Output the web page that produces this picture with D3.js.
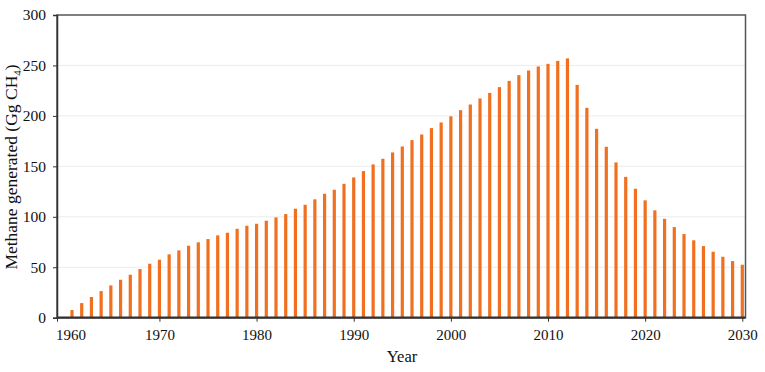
<!DOCTYPE html>
<html><head><meta charset="utf-8">
<script src="https://cdn.jsdelivr.net/npm/d3@7"></script>
<style>
body{margin:0;background:#fff;}
svg{display:block;font-family:"Liberation Serif","Times New Roman",serif;}
</style></head>
<body><svg id="c" width="765" height="372"></svg>
<script>
const years = d3.range(1961, 2031);
const methane = [
  7.6,14.5,20.5,26.4,32,37.6,42.6,48.2,53.5,57.5,
  62.8,66.7,71.3,74.7,77.9,81.6,84.2,88.1,91.1,93.1,
  96.1,99.4,102.7,108,111.9,117.3,122.8,126.8,132.7,139,
  145.3,151.9,157.5,163.8,169.7,176,181.6,187.9,193.5,199.6,
  205.7,211.3,217.3,222.8,228.5,234.7,240.4,245,249,251.6,
  254.5,257,230.7,208,187.2,169.4,153.9,139.6,127.8,116.3,
  106.4,98,89.8,82.9,76.7,71,65.4,60.4,56.1,52.5
];
const xTicks = [1960,1970,1980,1990,2000,2010,2020,2030];
const yTicks = [0,50,100,150,200,250,300];

const svg = d3.select("#c");
const L = 57, R = 745.5, T = 15, B = 317.7;
const x = d3.scaleLinear().domain([1961, 2030]).range([72, 742.3]);
const y = d3.scaleLinear().domain([0, 300]).range([B, T]);

// gridlines
svg.append("g").selectAll("line").data(yTicks.filter(d => d > 0 && d < 300)).join("line")
  .attr("x1", L).attr("x2", R).attr("y1", d => y(d)).attr("y2", d => y(d))
  .attr("stroke", "#ececec").attr("stroke-width", 1);

// bars
svg.append("g").selectAll("rect").data(years).join("rect")
  .attr("x", (d) => x(d) - 1.6).attr("width", 3.2)
  .attr("y", (d, i) => y(methane[i])).attr("height", (d, i) => B - y(methane[i]))
  .attr("fill", "#F07020");

// frame
svg.append("rect").attr("x", L).attr("y", T).attr("width", R - L).attr("height", B - T)
  .attr("fill", "none").attr("stroke", "#555").attr("stroke-width", 1.5);

// y axis
const ya = svg.append("g").attr("transform", `translate(${L},0)`)
  .call(d3.axisLeft(y).tickValues(yTicks).tickSize(4).tickPadding(7));
ya.select(".domain").attr("stroke", "#333").attr("stroke-width", 1.5);
ya.selectAll(".tick line").attr("stroke", "#333");
ya.selectAll("text").attr("font-size", 15.5).attr("fill", "#111")
  .attr("font-family", "Liberation Serif, serif");

// x axis
const xa = svg.append("g").attr("transform", `translate(0,${B})`)
  .call(d3.axisBottom(x).tickValues(xTicks).tickFormat(d3.format("d")).tickSize(4).tickPadding(8));
xa.select(".domain").attr("d", `M${L},0H${R}`).attr("stroke", "#333").attr("stroke-width", 2.2);
xa.selectAll(".tick line").attr("stroke", "#333");
xa.selectAll("text").attr("font-size", 15).attr("fill", "#111")
  .attr("font-family", "Liberation Serif, serif");
xa.selectAll(".tick").filter(d => d === 1960).each(function() {
  const g = d3.select(this);
  g.attr("transform", `translate(${L + 0.5},0)`);
  g.select("text").attr("text-anchor", "start").attr("x", -1.5);
});

// titles
svg.append("text").attr("x", 402).attr("y", 362).attr("text-anchor", "middle")
  .attr("font-size", 16.5).attr("fill", "#111").text("Year");
const yt = svg.append("text").attr("transform", "translate(17,167) rotate(-90)")
  .attr("text-anchor", "middle").attr("font-size", 17.5).attr("fill", "#111");
yt.append("tspan").text("Methane generated (Gg CH");
yt.append("tspan").attr("font-size", 11).attr("dy", 4).text("4");
yt.append("tspan").attr("dy", -4).text(")");
</script></body></html>
